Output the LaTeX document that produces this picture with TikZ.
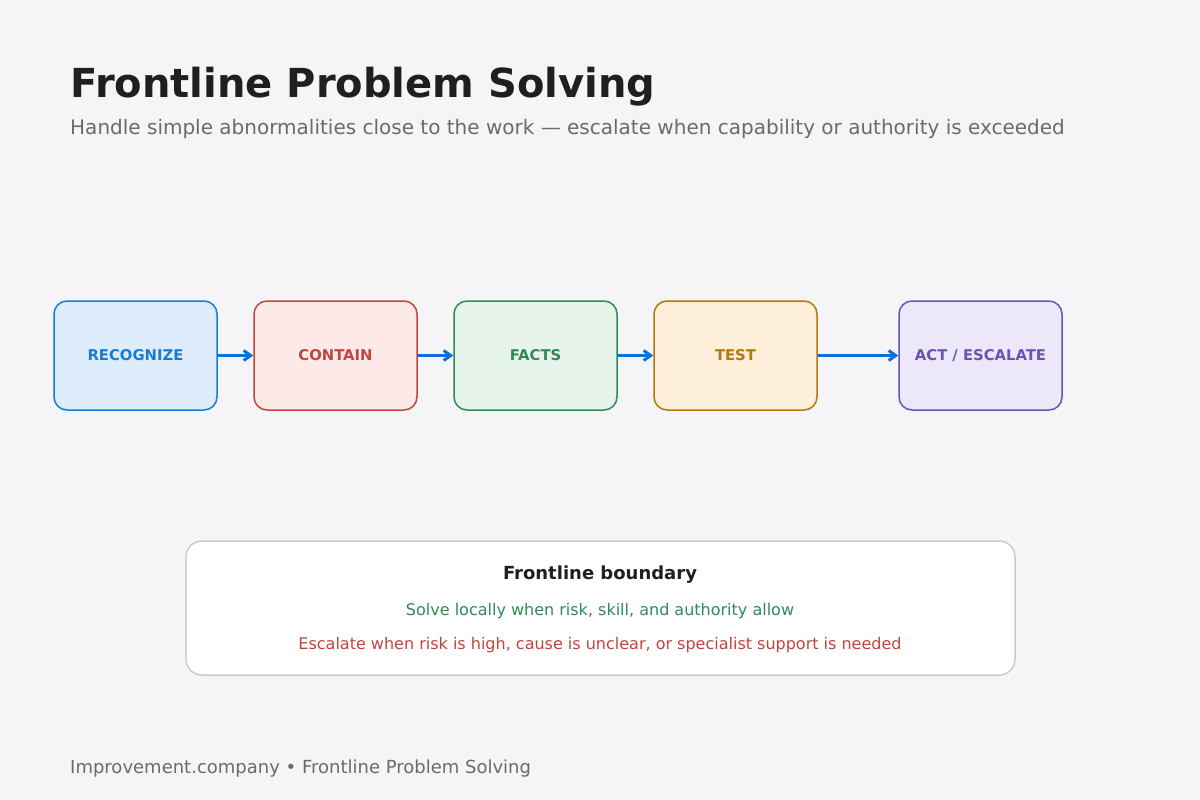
\documentclass[tikz,border=0pt]{standalone}
\usepackage{fontspec}
\setmainfont{DejaVu Sans}
\usetikzlibrary{arrows.meta}
\definecolor{bg}{HTML}{F5F5F7}
\definecolor{bB}{HTML}{1A7BD0}\definecolor{fB}{HTML}{DDEDFC}
\definecolor{bR}{HTML}{C0453E}\definecolor{fR}{HTML}{FDE9E7}
\definecolor{bG}{HTML}{2E8B57}\definecolor{fG}{HTML}{E7F4EC}
\definecolor{bO}{HTML}{B5770A}\definecolor{fO}{HTML}{FDEFDA}
\definecolor{bP}{HTML}{6B52B3}\definecolor{fP}{HTML}{ECE7F9}
\definecolor{arr}{HTML}{0A72D8}
\begin{document}
\begin{tikzpicture}[x=1pt,y=-1pt,
 step/.style={draw=#1,line width=1.5pt,rounded corners=13pt,minimum width=163pt,minimum height=109pt,inner sep=0pt,font=\fontsize{14.8}{17}\selectfont\bfseries,text=#1},
 con/.style={arr,line width=3pt,-{Straight Barb[length=7pt,width=10pt]}}]
\fill[bg] (0,0) rectangle (1200,800);
\node[anchor=base west,inner sep=0pt,font=\fontsize{40}{44}\selectfont\bfseries,text=black!88] (title) at (70,97) {Frontline Problem Solving};
\node[anchor=base west,inner sep=0pt,font=\fontsize{20}{24}\selectfont,text=black!58] (sub) at (70,134) {Handle simple abnormalities close to the work — escalate when capability or authority is exceeded};
\node[step=bB,fill=fB] (a) at (135.5,355.5) {RECOGNIZE};
\node[step=bR,fill=fR] (b) at (335.5,355.5) {CONTAIN};
\node[step=bG,fill=fG] (c) at (535.5,355.5) {FACTS};
\node[step=bO,fill=fO] (d) at (735.5,355.5) {TEST};
\node[step=bP,fill=fP] (e) at (980.5,355.5) {ACT / ESCALATE};
\draw[con] (a) -- (b); \draw[con] (b) -- (c); \draw[con] (c) -- (d); \draw[con] (d) -- (e);
\node[draw=black!20,fill=white,line width=1.5pt,rounded corners=16pt,minimum width=829pt,minimum height=134pt] (box) at (600.5,608) {};
\node[font=\fontsize{18}{20}\selectfont\bfseries,text=black!88] (bt) at (600,575) {Frontline boundary};
\node[font=\fontsize{16}{18}\selectfont,text=bG] (l1) at (600,611) {Solve locally when risk, skill, and authority allow};
\node[font=\fontsize{16}{18}\selectfont,text=bR] (l2) at (600,645) {Escalate when risk is high, cause is unclear, or specialist support is needed};
\node[anchor=base west,inner sep=0pt,font=\fontsize{18}{20}\selectfont,text=black!58] (ft) at (70,773) {Improvement.company • Frontline Problem Solving};
\end{tikzpicture}
\end{document}
